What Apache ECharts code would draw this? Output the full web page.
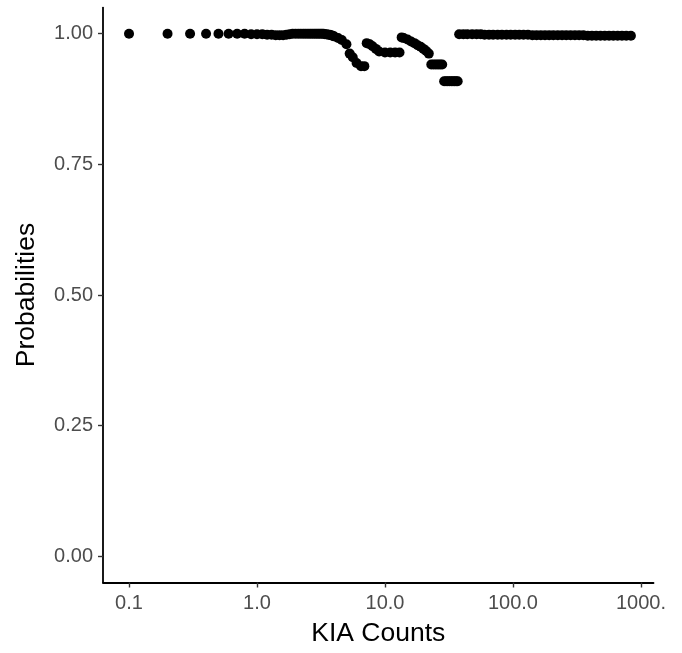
<!DOCTYPE html>
<html>
<head>
<meta charset="utf-8">
<script src="https://cdn.jsdelivr.net/npm/echarts@6/dist/echarts.min.js"></script>
<style>
html,body{margin:0;padding:0;background:#fff;}
#chart{width:682px;height:653px;}
</style>
</head>
<body>
<div id="chart"></div>
<script>
const kiaCounts = [
  0.1,0.2,0.3,0.4,0.5,0.6,0.7,0.8,0.9,
  1.0,1.1,1.2,1.3,1.4,1.5,1.6,
  1.7,1.8,1.9,2.0,2.1,2.2,2.3,2.4,2.5,2.6,2.7,2.8,2.9,3.0,3.1,3.2,3.3,3.4,3.5,
  3.6,3.7,3.8,3.9,
  4.0,4.3,4.6,5.0,5.3,5.6,6.0,6.5,6.9,
  7.2,7.6,8.0,8.5,9,10,11,12,13,
  13.5,14,15,16,17,18,19,20,21,22,
  23,24,25,26,27,28,
  29,30,31,32,33,34,35,36,37,
  38,41,44,48,52,56,60,65,70,76,
  82,89,96,104,112,121,131,142,153,165,
  178,192,207,224,242,261,282,305,329,355,
  384,414,447,483,522,564,609,658,711,768,835
];
const probabilities = [
  1,1,1,1,1,1,1,1,0.999,
  0.999,0.999,0.998,0.998,0.997,0.997,0.997,
  0.998,0.999,1,1,1,1,1,1,1,1,1,1,1,1,1,1,1,0.999,0.999,
  0.998,0.998,0.997,0.996,
  0.995,0.992,0.988,0.980,0.962,0.955,0.944,0.938,0.938,
  0.982,0.980,0.976,0.971,0.966,0.964,0.964,0.964,0.964,
  0.993,0.992,0.989,0.985,0.982,0.978,0.975,0.971,0.967,0.962,
  0.941,0.941,0.941,0.941,0.941,0.941,
  0.909,0.909,0.909,0.909,0.909,0.909,0.909,0.909,0.909,
  0.999,0.999,0.999,0.999,0.999,0.999,0.998,0.998,0.998,0.998,
  0.998,0.998,0.998,0.998,0.998,0.998,0.998,0.997,0.997,0.997,
  0.997,0.997,0.997,0.997,0.997,0.997,0.997,0.997,0.997,0.997,
  0.996,0.996,0.996,0.996,0.996,0.996,0.996,0.996,0.996,0.996,0.996
];
const xTickValues = [0.1, 1, 10, 100, 1000];
const xTickLabels = ['0.1', '1.0', '10.0', '100.0', '1000.'];
const yTickValues = [0, 0.25, 0.5, 0.75, 1];
const xTitle = 'KIA Counts';
const yTitle = 'Probabilities';

const points = kiaCounts.map((x, i) => [x, probabilities[i]]);

const chart = echarts.init(document.getElementById('chart'), null, {renderer: 'canvas'});
const fontFam = 'Liberation Sans, Arial, sans-serif';
const labelFont = {color: '#4D4D4D', fontSize: 20, fontFamily: fontFam};
chart.setOption({
  animation: false,
  backgroundColor: '#ffffff',
  grid: {left: 103, right: 28.5, top: 7.6, bottom: 70.5, containLabel: false},
  xAxis: {
    type: 'log',
    logBase: 10,
    min: 0.06261,
    max: 1254,
    name: xTitle,
    nameLocation: 'middle',
    nameGap: 38,
    nameTextStyle: {color: '#000', fontSize: 26.5, fontFamily: fontFam},
    axisLine: {onZero: false, lineStyle: {color: '#000', width: 1.8}},
    axisTick: {show: true, length: 5, customValues: xTickValues, lineStyle: {color: '#333', width: 1.4}},
    axisLabel: Object.assign({
      margin: 11,
      customValues: xTickValues,
      formatter: function (v) {
        const idx = Math.round(Math.log10(v)) + 1;
        return xTickLabels[idx] !== undefined ? xTickLabels[idx] : '';
      }
    }, labelFont),
    splitLine: {show: false},
    minorTick: {show: false}
  },
  yAxis: {
    type: 'value',
    min: -0.05,
    max: 1.05,
    name: yTitle,
    nameLocation: 'middle',
    nameGap: 63,
    nameTextStyle: {color: '#000', fontSize: 26.5, fontFamily: fontFam},
    axisLine: {show: true, onZero: false, lineStyle: {color: '#000', width: 1.8}},
    axisTick: {show: true, length: 5, customValues: yTickValues, lineStyle: {color: '#333', width: 1.4}},
    axisLabel: Object.assign({
      margin: 10,
      customValues: yTickValues,
      formatter: function (v) { return Number(v).toFixed(2); }
    }, labelFont),
    splitLine: {show: false}
  },
  series: [{
    type: 'scatter',
    data: points,
    symbol: 'circle',
    symbolSize: 10,
    itemStyle: {color: '#000000', opacity: 1},
    emphasis: {disabled: true}
  }]
});
</script>
</body>
</html>
